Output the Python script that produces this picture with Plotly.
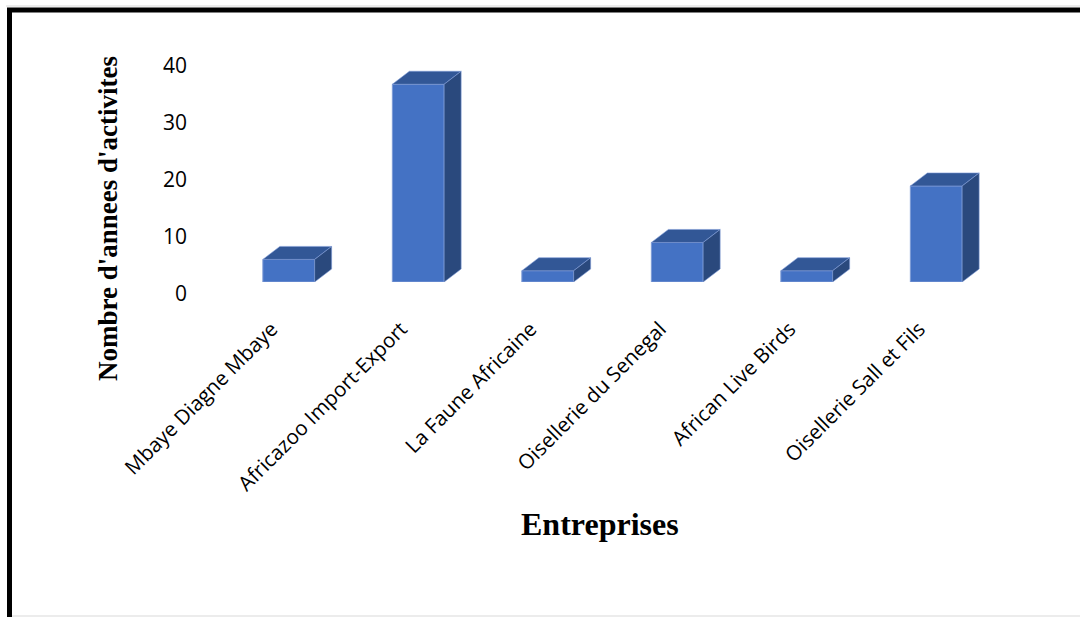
import plotly.graph_objects as go

# ---- data ----
categories = ["Mbaye Diagne Mbaye", "Africazoo Import-Export", "La Faune Africaine",
              "Oisellerie du Senegal", "African Live Birds", "Oisellerie Sall et Fils"]
years = [4, 35, 2, 7, 2, 17]
y_ticks = [0, 10, 20, 30, 40]

# ---- geometry / style ----
W, H = 1080, 617
ML, MR, MT, MB = 224, 79, 56, 323
PW, PH = W - ML - MR, H - MT - MB
BAR_W = 0.4
DX = 17 / (PW / 6)          # depth offset in category units
DY = 13 / ((282 - 56) / 40) # depth offset in value units
FRONT = "#4472C4"
TOP = "#325796"
SIDE = "#2A497D"
EDGE = "#7E9BD6"

def px_x(p):
    return (p - ML) / PW

def px_y(p):
    return (H - MB - p) / PH

xs = list(range(len(categories)))

fig = go.Figure()

# front faces
fig.add_trace(go.Bar(x=xs, y=years, width=BAR_W, marker=dict(color=FRONT, line=dict(color=EDGE, width=1)),
                     hoverinfo="skip", showlegend=False))

# top faces & side faces built from the data values
top_x, top_y, side_x, side_y = [], [], [], []
for i, v in zip(xs, years):
    l, r = i - BAR_W / 2, i + BAR_W / 2
    top_x += [l, r, r + DX, l + DX, l, None]
    top_y += [v, v, v + DY, v + DY, v, None]
    side_x += [r, r + DX, r + DX, r, r, None]
    side_y += [0, DY, v + DY, v, 0, None]

fig.add_trace(go.Scatter(x=top_x, y=top_y, mode="lines", fill="toself", fillcolor=TOP,
                         line=dict(color=EDGE, width=0.6), hoverinfo="skip", showlegend=False))
fig.add_trace(go.Scatter(x=side_x, y=side_y, mode="lines", fill="toself", fillcolor=SIDE,
                         line=dict(color=EDGE, width=0.6), hoverinfo="skip", showlegend=False))

# invisible trace carrying the value-label axis
fig.add_trace(go.Scatter(x=[0], y=[0], yaxis="y2", mode="markers", marker=dict(opacity=0),
                         hoverinfo="skip", showlegend=False))

d1 = 12 / PH
d2 = (294 - 66) / PH

fig.update_layout(
    width=W, height=H,
    margin=dict(l=ML, r=MR, t=MT, b=MB, pad=0),
    paper_bgcolor="white", plot_bgcolor="rgba(0,0,0,0)",
    xaxis=dict(range=[-0.5, 5.5], tickmode="array", tickvals=xs, ticktext=categories,
               tickangle=-45, tickfont=dict(family="Open Sans", size=20.5, color="#000000"),
               showgrid=False, zeroline=False,
               showline=False, ticks="", anchor="y", ticklabelstandoff=30, ticklabelshift=-17),
    yaxis=dict(domain=[d1, 1], range=[0, 40], showgrid=False, zeroline=False,
               showticklabels=False, showline=False, ticks=""),
    yaxis2=dict(domain=[0, d2], range=[0, 40], tickmode="array", tickvals=y_ticks,
                tickfont=dict(family="Open Sans", size=21, color="#000000"),
                showgrid=False, zeroline=False, showline=False,
                ticks="", anchor="x", side="left", ticklabelstandoff=36),
    showlegend=False,
)

fig.add_annotation(text="<b>Nombre d'annees d'activites</b>", xref="paper", yref="paper",
                   x=px_x(108), y=px_y(219), textangle=-90, showarrow=False,
                   font=dict(family="Liberation Serif", size=27, color="#000000"),
                   xanchor="center", yanchor="middle")
fig.add_annotation(text="<b>Entreprises</b>", xref="paper", yref="paper",
                   x=px_x(600), y=px_y(524), showarrow=False,
                   font=dict(family="Liberation Serif", size=32, color="#000000"),
                   xanchor="center", yanchor="middle")

# frame
shapes = [
    dict(type="line", x0=px_x(6), x1=px_x(W), y0=px_y(6), y1=px_y(6), line=dict(color="#D9D9D9", width=1)),
    dict(type="line", x0=px_x(7), x1=px_x(W), y0=px_y(10), y1=px_y(10), line=dict(color="#000000", width=5)),
    dict(type="line", x0=px_x(9.5), x1=px_x(9.5), y0=px_y(8), y1=px_y(H), line=dict(color="#000000", width=5)),
    dict(type="line", x0=px_x(12), x1=px_x(W), y0=px_y(616), y1=px_y(616), line=dict(color="#D9D9D9", width=1)),
]
for s in shapes:
    s.update(xref="paper", yref="paper", layer="above")
fig.update_layout(shapes=shapes)

fig.write_html("out.html", config={"displayModeBar": False},
               post_script="document.body.style.margin='0';document.body.style.overflow='hidden';")
